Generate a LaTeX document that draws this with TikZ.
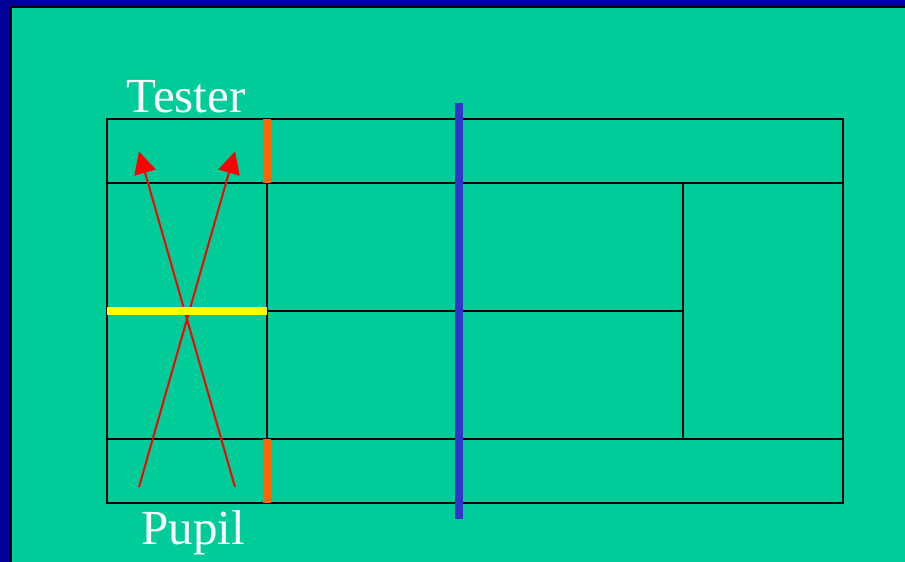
\documentclass[tikz,border=0pt]{standalone}
\usepackage{fontspec}
\setmainfont{Liberation Serif}
\usetikzlibrary{arrows.meta}
\definecolor{bgc}{HTML}{00CC99}
\definecolor{navyc}{HTML}{000099}
\definecolor{orangec}{HTML}{FF6600}
\definecolor{bluec}{HTML}{3333CC}
\definecolor{yellowc}{HTML}{FFFF00}
\definecolor{redc}{HTML}{FF0000}
\tikzset{
  court/.style={draw=black,line width=2pt,line cap=rect},
  band/.style={line width=8pt,line cap=butt},
  serve/.style={draw=redc,line width=2pt,-{Triangle[length=22pt,width=22pt,fill=redc]}},
  lbl/.style={text=white,inner sep=0pt,font=\fontsize{49}{51}\selectfont,anchor=base}
}
\begin{document}
\begin{tikzpicture}[x=1pt,y=-1pt]
\useasboundingbox (0,0) rectangle (905,562);
\fill[navyc] (0,0) rectangle (905,562);
\fill[black] (10,6) rectangle (905,562);
\fill[bgc] (11.5,7.5) rectangle (905,562);
% court
\draw[court] (107,119) rectangle (843,503);
\draw[court] (107,183) -- (843,183);
\draw[court] (107,439) -- (843,439);
\draw[court] (267,183) -- (267,439);
\draw[court] (683,183) -- (683,439);
\draw[court] (267,311) -- (683,311);
% serve arrows
\coordinate (a1s) at (235,487);
\coordinate (a1e) at (139,151.5);
\coordinate (a2s) at (139,487);
\coordinate (a2e) at (235,151.5);
\draw[serve] (a1s) -- (a1e);
\draw[serve] (a2s) -- (a2e);
% bands
\draw[band,orangec] (267,119) -- (267,183);
\draw[band,orangec] (267,439) -- (267,503);
\draw[band,bluec] (459,103) -- (459,519);
\draw[band,yellowc] (107,311) -- (267,311);
% labels
\node[lbl] (tester) at (186,112) {Tester};
\node[lbl] (pupil) at (193,544) {Pupil};
\end{tikzpicture}
\end{document}
